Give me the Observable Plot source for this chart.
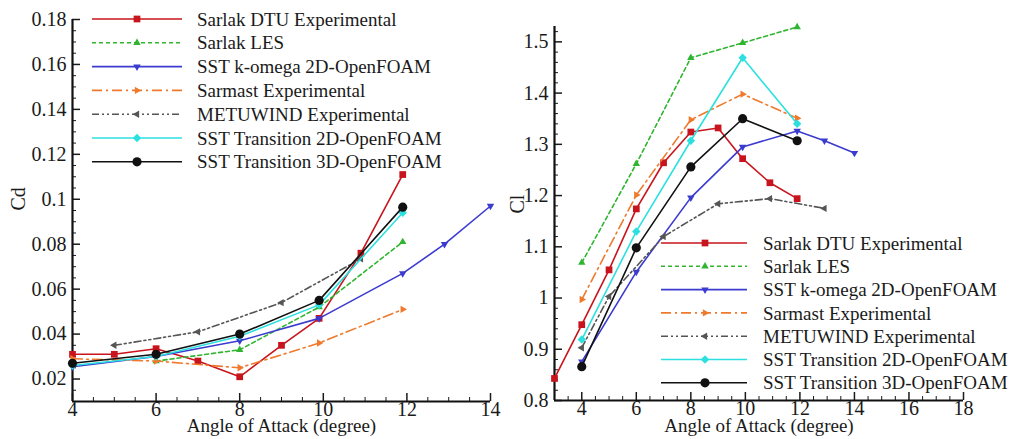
<!DOCTYPE html>
<html><head><meta charset="utf-8">
<script src="https://cdn.jsdelivr.net/npm/d3@7"></script>
<script src="https://cdn.jsdelivr.net/npm/@observablehq/plot@0.6"></script>
<style>
body{margin:0;background:#fff}
#wrap{position:relative;width:1024px;height:439px;overflow:hidden;font-family:"Liberation Serif",serif}
#wrap > svg{position:absolute;top:0}
</style></head><body><div id="wrap"></div>
<script>
// ---------- data ----------
const seriesNames = ["Sarlak DTU Experimental","Sarlak LES","SST k-omega 2D-OpenFOAM","Sarmast Experimental","METUWIND Experimental","SST Transition 2D-OpenFOAM","SST Transition 3D-OpenFOAM"];

// Cd (left panel)
const cdAoaSarlakDTU = [4,5,6,7,8,9,9.9,10.9,11.9];
const cdSarlakDTU    = [0.031,0.031,0.0335,0.028,0.021,0.035,0.047,0.076,0.111];
const cdAoaSarlakLES = [6,8,9.9,11.9];
const cdSarlakLES    = [0.028,0.033,0.052,0.081];
const cdAoaKw        = [4,6,8,9.9,11.9,12.9,14];
const cdKw           = [0.0255,0.030,0.037,0.047,0.067,0.080,0.097];
const cdAoaSarmast   = [4,6,8,9.9,11.9];
const cdSarmast      = [0.029,0.028,0.025,0.036,0.051];
const cdAoaMetu      = [5,7,9,10.9];
const cdMetu         = [0.035,0.041,0.054,0.0735];
const cdAoaTr2D      = [4,6,8,9.9,11.9];
const cdTr2D         = [0.026,0.030,0.039,0.053,0.094];
const cdAoaTr3D      = [4,6,8,9.9,11.9];
const cdTr3D         = [0.027,0.031,0.040,0.055,0.0965];

// Cl (right panel)
const clAoaSarlakDTU = [3,4,5,6,7,8,9,9.9,10.9,11.9];
const clSarlakDTU    = [0.843,0.948,1.055,1.174,1.264,1.324,1.332,1.272,1.225,1.194];
const clAoaSarlakLES = [4,6,8,9.9,11.9];
const clSarlakLES    = [1.069,1.262,1.469,1.498,1.529];
const clAoaKw        = [4,6,8,9.9,11.9,12.9,14];
const clKw           = [0.876,1.051,1.196,1.295,1.326,1.307,1.283];
const clAoaSarmast   = [4,6,8,9.9,11.9];
const clSarmast      = [0.997,1.201,1.348,1.398,1.351];
const clAoaMetu      = [4,5,7,9,10.9,12.9];
const clMetu         = [0.903,1.003,1.12,1.184,1.194,1.175];
const clAoaTr2D      = [4,6,8,9.9,11.9];
const clTr2D         = [0.919,1.13,1.307,1.469,1.34];
const clAoaTr3D      = [4,6,8,9.9,11.9];
const clTr3D         = [0.866,1.098,1.256,1.35,1.307];

// ticks
const cdXTicks = [4,6,8,10,12,14];
const cdYTicks = [0.02,0.04,0.06,0.08,0.1,0.12,0.14,0.16,0.18];
const clXTicks = [4,6,8,10,12,14,16,18];
const clYTicks = [0.8,0.9,1,1.1,1.2,1.3,1.4,1.5];

// ---------- styles ----------
const colors = ["#c8141c","#2fb52f","#3b3bd0","#ef7a2e","#555555","#2de0e0","#111111"];
const dashes = [null,"4,3",null,"10,4,2,4","7,3,2,3,2,3",null,null];
function triangle(deg){ return {draw(ctx,size){ const r=Math.sqrt(size/Math.PI)*1.3; for(let k=0;k<3;k++){const a=(deg+120*k)*Math.PI/180; const x=r*Math.cos(a), y=r*Math.sin(a); if(k) ctx.lineTo(x,y); else ctx.moveTo(x,y);} ctx.closePath(); }}; }
const symbols = [d3.symbolSquare, triangle(-90), triangle(90), triangle(0), triangle(180), d3.symbolDiamond2, d3.symbolCircle];
const radii = [3.8,3.3,3.3,3.3,3.3,3.8,4.6];

function rows(aoa, vals){ return aoa.map((a,i)=>({aoa:a, v:vals[i]})); }
const cdSeries = [rows(cdAoaSarlakDTU,cdSarlakDTU),rows(cdAoaSarlakLES,cdSarlakLES),rows(cdAoaKw,cdKw),rows(cdAoaSarmast,cdSarmast),rows(cdAoaMetu,cdMetu),rows(cdAoaTr2D,cdTr2D),rows(cdAoaTr3D,cdTr3D)];
const clSeries = [rows(clAoaSarlakDTU,clSarlakDTU),rows(clAoaSarlakLES,clSarlakLES),rows(clAoaKw,clKw),rows(clAoaSarmast,clSarmast),rows(clAoaMetu,clMetu),rows(clAoaTr2D,clTr2D),rows(clAoaTr3D,clTr3D)];

function seriesMarks(series){
  const m = [];
  series.forEach((d,i)=>{
    m.push(Plot.line(d,{x:"aoa",y:"v",stroke:colors[i],strokeWidth:1.6,strokeDasharray:dashes[i]}));
    m.push(Plot.dot(d,{x:"aoa",y:"v",symbol:symbols[i],r:radii[i],fill:colors[i],stroke:"none"}));
  });
  return m;
}
function minor(lo,hi,step,majors){ return d3.range(Math.round((hi-lo)/step)+1).map(k=>+(lo+k*step).toFixed(4)).filter(v=>!majors.some(m=>Math.abs(m-v)<1e-9)); }
const style = {fontFamily:"Liberation Serif, serif", fontSize:"20px", color:"#1a1a1a", background:"transparent", overflow:"visible"};
const fmt = d => String(d);

function panel({width,ml,mr,mt,mb,xd,yd,xt,yt,xMinor,yMinor,ylab,ylabDx,titleDy,series}){
  return Plot.plot({
    width, height:439, marginLeft:ml, marginRight:mr, marginTop:mt, marginBottom:mb,
    style,
    x:{domain:xd}, y:{domain:yd},
    marks:[
      Plot.axisX(xMinor,{tickSize:-4,tickFormat:()=>"",label:null}),
      Plot.axisX(xt,{tickSize:-8,tickPadding:8,label:null,strokeWidth:1.5,fontSize:20,tickFormat:fmt}),
      Plot.axisY(yMinor,{tickSize:-4,tickFormat:()=>"",label:null}),
      Plot.axisY(yt,{tickSize:-8,tickPadding:14,label:null,strokeWidth:1.5,fontSize:20,tickFormat:fmt}),
      Plot.ruleX([xd[0]],{strokeWidth:2.2,stroke:"#111"}),
      Plot.ruleY([yd[0]],{strokeWidth:2.2,stroke:"#111"}),
      ...seriesMarks(series),
      Plot.text(["Angle of Attack (degree)"],{frameAnchor:"bottom",dy:titleDy,fontSize:19,fill:"#1a1a1a"}),
      Plot.text([ylab],{frameAnchor:"left",dx:ylabDx,rotate:-90,fontSize:20,fill:"#1a1a1a"})
    ]
  });
}

const wrap = document.getElementById("wrap");
const left = panel({width:500,ml:72,mr:10,mt:19,mb:38,xd:[4,14],yd:[0.01,0.18],xt:cdXTicks,yt:cdYTicks,
  xMinor:minor(4,14,0.5,cdXTicks),yMinor:minor(0.01,0.18,0.005,cdYTicks),ylab:"Cd",ylabDx:-54,titleDy:30,series:cdSeries});
left.style.left="0px";
wrap.appendChild(left);
const right = panel({width:524,ml:54,mr:61,mt:26,mb:39,xd:[3,18],yd:[0.8,1.53],xt:clXTicks,yt:clYTicks,
  xMinor:minor(3,18,0.5,clXTicks),yMinor:minor(0.8,1.52,0.02,clYTicks),ylab:"Cl",ylabDx:-37,titleDy:31,series:clSeries});
right.style.left="500px";
wrap.appendChild(right);

// ---------- legends ----------
const lg = d3.select(wrap).append("svg").attr("width",1024).attr("height",439).style("left","0px").style("pointer-events","none");
function legend(x0,x1,xm,xt,y0,dy){
  seriesNames.forEach((name,i)=>{
    const y = y0+i*dy;
    lg.append("line").attr("x1",x0).attr("x2",x1).attr("y1",y).attr("y2",y)
      .attr("stroke",colors[i]).attr("stroke-width",1.6).attr("stroke-dasharray",dashes[i]);
    lg.append("path").attr("transform",`translate(${xm},${y})`)
      .attr("d",d3.symbol().type(symbols[i]).size(Math.PI*radii[i]*radii[i])()).attr("fill",colors[i]);
    lg.append("text").attr("x",xt).attr("y",y).attr("dy","0.35em").attr("font-family","Liberation Serif, serif")
      .attr("font-size",19).attr("fill","#1a1a1a").text(name);
  });
}
legend(92,182,137,197,19,23.8);
legend(661,747,705,763,243,23.3);
</script>
</body></html>
